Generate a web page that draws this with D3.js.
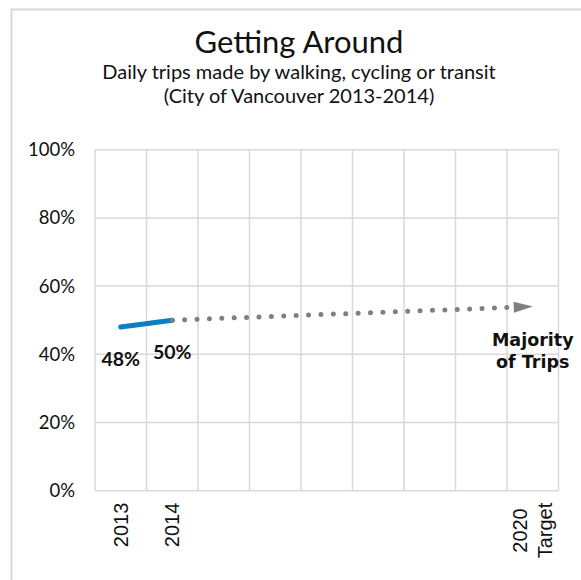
<!DOCTYPE html>
<html>
<head>
<meta charset="utf-8">
<script src="https://cdn.jsdelivr.net/npm/d3@7"></script>
<style>
  body { margin: 0; background: #fff; }
  svg { display: block; }
  text { font-family: Lato, "Open Sans", sans-serif; fill: #111; }
  .xlab { font-family: "Liberation Sans", Arial, sans-serif; }
</style>
</head>
<body>
<div id="chart"></div>
<script>
// Chart data
const categoryLabels = ["2013", "2014", "", "", "", "", "", "", "2020\nTarget"]
const yTicks = [0, 20, 40, 60, 80, 100]

// Measured share of trips (walk / bike / transit)
const actualIdx = [0, 1]
const actualValues = [48, 50]
const actualLabels = ["48%", "50%"]

// Trend to the 2020 target
const trendIdx = [1, 8]
const trendValues = [50, 54]
const targetLabel = ["Majority", "of Trips"]

const width = 581
const height = 580
const margin = { left: 95, right: 22.5, top: 149.7, bottom: 89.3 }

const svg = d3.select("#chart")
    .append("svg")
    .attr("width", width)
    .attr("height", height)

// Chart frame (runs off the page on the right and bottom)
svg.append("rect")
    .attr("x", 11.5)
    .attr("y", 9.5)
    .attr("width", 620)
    .attr("height", 620)
    .attr("fill", "#fff")
    .attr("stroke", "#d9d9d9")
    .attr("stroke-width", 2)

// Scales
const x = d3.scaleBand()
    .domain(d3.range(categoryLabels.length))
    .range([margin.left, width - margin.right])
    .paddingInner(0)
    .paddingOuter(0)

const cx = i => x(i) + x.bandwidth() / 2

const y = d3.scaleLinear()
    .domain([0, 100])
    .range([height - margin.bottom, margin.top])

// Grid
const grid = svg.append("g").attr("stroke", "#d9d9d9").attr("stroke-width", 1.5)
grid.selectAll("line.h")
    .data(yTicks)
    .enter()
    .append("line")
    .attr("x1", x.range()[0])
    .attr("x2", x.range()[1])
    .attr("y1", d => y(d))
    .attr("y2", d => y(d))

const bounds = d3.range(categoryLabels.length).map(i => x(i)).concat([x.range()[1]])
grid.selectAll("line.v")
    .data(bounds)
    .enter()
    .append("line")
    .attr("x1", d => d)
    .attr("x2", d => d)
    .attr("y1", y(0))
    .attr("y2", y(100))

// Y axis labels
const yAxis = d3.axisLeft(y)
    .tickValues(yTicks)
    .tickFormat(d => d + "%")
    .tickSize(0)
    .tickPadding(20)

const gy = svg.append("g")
    .attr("transform", `translate(${margin.left},0)`)
    .call(yAxis)
gy.select(".domain").remove()
gy.selectAll("text")
    .style("font-family", "Lato, sans-serif")
    .style("font-size", "18.5px")
    .attr("fill", "#111")

// X axis labels (rotated, multi-line centred)
const xl = svg.append("g").attr("class", "xlab")
categoryLabels.forEach((lab, i) => {
    if (!lab) return
    const lines = lab.split("\n")
    const g = xl.append("g")
        .attr("transform", `translate(${cx(i)},${y(0) + 12}) rotate(-90)`)
    const t = g.append("text")
        .attr("class", "xlab")
        .attr("font-size", 20)
        .attr("text-anchor", "end")
    lines.forEach((ln, k) => {
        t.append("tspan")
            .attr("x", 0)
            .attr("y", (k - (lines.length - 1) / 2) * 25)
            .attr("dy", "0.35em")
            .text(ln)
    })
    // centre the shorter lines against the longest one
    const spans = t.selectAll("tspan").nodes()
    const widest = d3.max(spans, s => s.getComputedTextLength())
    spans.forEach(s => {
        const w = s.getComputedTextLength()
        d3.select(s).attr("x", -(widest - w) / 2)
    })
})

// Actual series
const line = d3.line()
    .x(d => cx(d[0]))
    .y(d => y(d[1]))

svg.append("path")
    .datum(d3.zip(actualIdx, actualValues))
    .attr("d", line)
    .attr("fill", "none")
    .attr("stroke", "#0a7fc3")
    .attr("stroke-width", 5)
    .attr("stroke-linecap", "round")

// Trend series: dotted line ending in an arrow head
const x0 = cx(trendIdx[0]), y0 = y(trendValues[0])
const x1 = cx(trendIdx[1]), y1 = y(trendValues[1])
const len = Math.hypot(x1 - x0, y1 - y0)
const ux = (x1 - x0) / len, uy = (y1 - y0) / len
const headLen = 19, headHalf = 5.6
const bx = x1 - ux * headLen, by = y1 - uy * headLen

svg.append("line")
    .attr("x1", x0).attr("y1", y0)
    .attr("x2", bx - ux * 4).attr("y2", by - uy * 4)
    .attr("stroke", "#7f7f7f")
    .attr("stroke-width", 5)
    .attr("stroke-linecap", "round")
    .attr("stroke-dasharray", "0 12.4")

svg.append("path")
    .attr("d", `M${x1},${y1} L${bx - uy * headHalf},${by + ux * headHalf} L${bx + uy * headHalf},${by - ux * headHalf} Z`)
    .attr("fill", "#7f7f7f")

// Data labels
svg.selectAll("text.dl")
    .data(d3.zip(actualIdx, actualValues, actualLabels))
    .enter()
    .append("text")
    .attr("class", "dl")
    .attr("x", d => cx(d[0]))
    .attr("y", d => y(d[1]) + 39)
    .attr("text-anchor", "middle")
    .attr("font-size", 19.5)
    .attr("font-weight", "bold")
    .text(d => d[2])

// Target label, one text per line
svg.selectAll("text.tl")
    .data(targetLabel)
    .enter()
    .append("text")
    .attr("class", "tl")
    .attr("x", x1)
    .attr("y", (d, k) => y1 + 39 + k * 22)
    .attr("text-anchor", "middle")
    .style("font-family", "'DejaVu Sans', sans-serif")
    .attr("font-size", 17.5)
    .attr("font-weight", "bold")
    .text(d => d)

// Titles
svg.append("text")
    .attr("x", 299)
    .attr("y", 53)
    .attr("text-anchor", "middle")
    .attr("font-size", 31)
    .text("Getting Around")

svg.append("text")
    .attr("x", 299)
    .attr("y", 78.5)
    .attr("text-anchor", "middle")
    .attr("font-size", 20)
    .text("Daily trips made by walking, cycling or transit")

svg.append("text")
    .attr("x", 299)
    .attr("y", 102.5)
    .attr("text-anchor", "middle")
    .attr("font-size", 20)
    .text("(City of Vancouver 2013-2014)")
</script>
</body>
</html>
